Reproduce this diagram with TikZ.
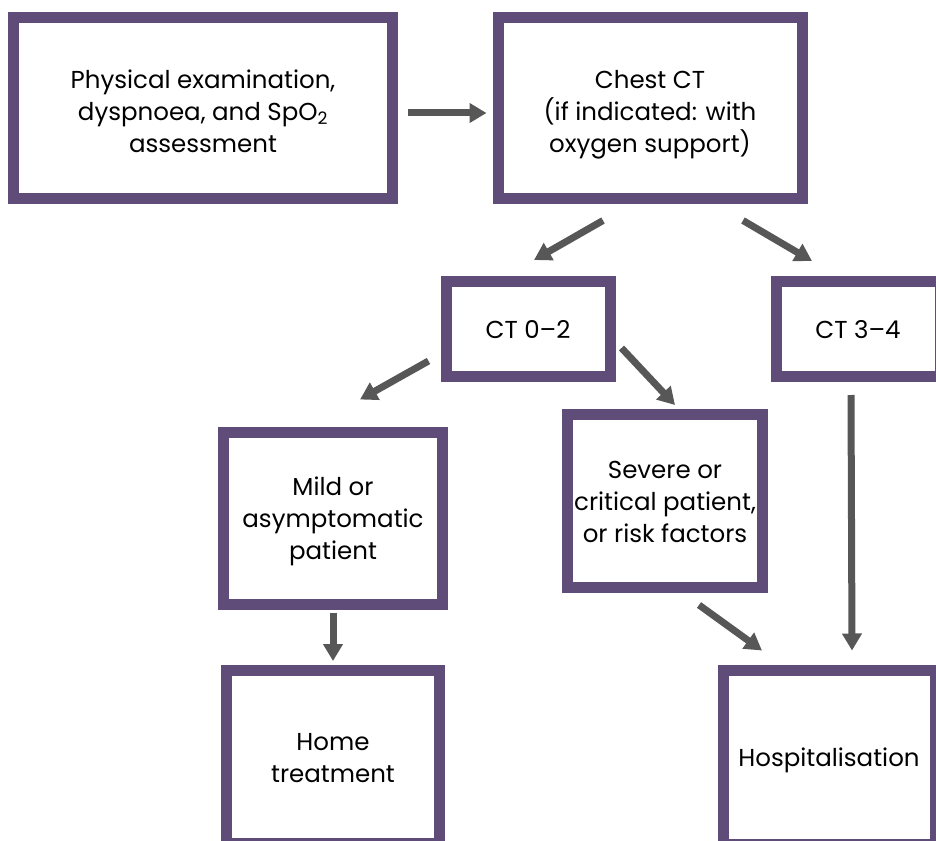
\documentclass[tikz,border=0pt]{standalone}
\usepackage{fontspec}
\setmainfont{Poppins}
\usepackage{tikz}
\usetikzlibrary{arrows.meta}
\definecolor{boxpurple}{RGB}{95,76,120}
\definecolor{arrowgrey}{RGB}{87,87,87}
\newcommand{\headstrut}{\rule{0pt}{35pt}}
\newcommand{\linestrut}{\rule{0pt}{28.5pt}}
\tikzstyle{box} = [rectangle, draw=boxpurple, line width=11pt, fill=white,
    align=center, text=black, inner sep=0pt, font=\fontsize{24.5}{32}\selectfont]
\tikzstyle{line} = [draw=arrowgrey, line width=7pt, -{Triangle[width=19pt,length=17pt]}]

\begin{document}
\begin{tikzpicture}[x=1pt, y=-1pt]
    \useasboundingbox (0,0) rectangle (936,840);
    \clip (0,0) rectangle (936,840);
    % Place nodes
    % First row
    \node [box, minimum width=379pt, minimum height=180pt] (phys) at (203,108)
        {\headstrut Physical examination,\\dyspnoea, and SpO\textsubscript{2}\\assessment\strut};
    \node [box, minimum width=304pt, minimum height=180pt] (chest) at (650,108)
        {\headstrut Chest CT\\(if indicated: with\\oxygen support)\strut};
    
    % CT scores
    \node [box, minimum width=164pt, minimum height=95pt] (ct02) at (528,329) {\linestrut CT 0--2\strut};
    \node [box, minimum width=164pt, minimum height=95pt] (ct34) at (858,329) {\linestrut CT 3--4\strut};
    
    % Patients
    \node [box, minimum width=219pt, minimum height=172pt] (mild) at (333,518)
        {\linestrut Mild or\\asymptomatic\\patient\strut};
    \node [box, minimum width=195pt, minimum height=173pt] (severe) at (665,501)
        {\linestrut Severe or\\critical patient,\\or risk factors\strut};
    
    % Outcomes
    \node [box, minimum width=213pt, minimum height=173pt] (home) at (333,757)
        {\linestrut Home\\treatment\strut};
    \node [box, minimum width=212pt, minimum height=174pt] (hosp) at (829,757)
        {\linestrut Hospitalisation\strut};
    
    % Draw edges
    \path [line] ([shift={(10,5)}]phys.east) -- ([shift={(-6,5)}]chest.west);
    \path [line] ([shift={(-47,17)}]chest.south) -- ([shift={(6,-16)}]ct02.north);
    \path [line] ([shift={(93,17)}]chest.south) -- ([shift={(-46,-15)}]ct34.north);
    \path [line] ([shift={(-12,32)}]ct02.west) -- ([shift={(27,-27)}]mild.north);
    \path [line] ([shift={(6,19)}]ct02.east) -- ([shift={(10,-4)}]severe.north);
    \path [line] ([shift={(0,3)}]mild.south) -- ([shift={(0,-4)}]home.north);
    \path [line] ([shift={(-7,13)}]ct34.south) -- ([shift={(23,-14)}]hosp.north);
    \path [line] ([shift={(34,12)}]severe.south) -- ([shift={(-67,-14)}]hosp.north);

\end{tikzpicture}
\end{document}
